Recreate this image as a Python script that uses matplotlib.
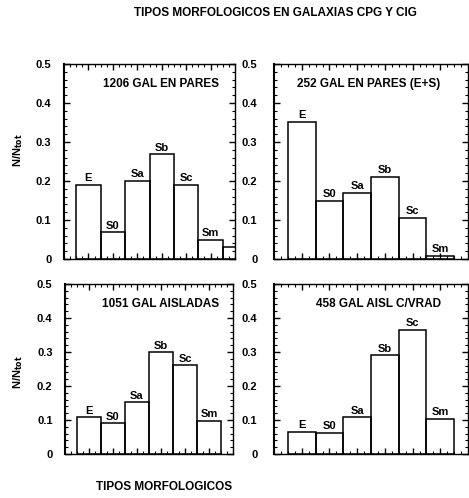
import numpy as np
from matplotlib import pyplot as plt
from matplotlib.ticker import MultipleLocator

plt.rcParams['font.family'] = ['Liberation Sans', 'DejaVu Sans']
plt.rcParams['font.weight'] = 'bold'

# tipos morfologicos y fracciones N/Ntot de cada muestra
tipos = ['E', 'S0', 'Sa', 'Sb', 'Sc', 'Sm']
pares = [0.19, 0.069, 0.20, 0.269, 0.19, 0.049, 0.031]   # ultimo: cola fuera del eje
pares_es = [0.352, 0.15, 0.17, 0.211, 0.105, 0.008]
aisladas = [0.109, 0.09, 0.152, 0.30, 0.262, 0.098]
aisl_vrad = [0.066, 0.063, 0.108, 0.29, 0.366, 0.104]

rotulos = ['1206 GAL EN PARES', '252 GAL EN PARES (E+S)',
           '1051 GAL AISLADAS', '458 GAL AISL C/VRAD']
muestras = [pares, pares_es, aisladas, aisl_vrad]
yticks = [0, 0.1, 0.2, 0.3, 0.4, 0.5]
yticklabels = ['0', '0.1', '0.2', '0.3', '0.4', '0.5']

fig = plt.figure(figsize=(4.69, 4.98), dpi=100)
W, H = 469, 498

# cajas de los paneles en pixeles (izq, arriba, der, abajo)
cajas = [(64, 64, 235, 259), (274, 64, 468, 259),
         (65, 284, 233, 454), (274, 284, 468, 454)]
pos_rotulo = [(0.57, 0.90), (0.49, 0.90), (0.57, 0.88), (0.54, 0.88)]

for i, (vals, rot) in enumerate(zip(muestras, rotulos)):
    l, t, r, b = cajas[i]
    ax = fig.add_axes([l / W, 1 - b / H, (r - l) / W, (b - t) / H])
    x = np.arange(1, len(vals) + 1)
    ax.bar(x, vals, width=1.0, fill=False, edgecolor='black', linewidth=1.1)
    for k, tp in enumerate(tipos):
        ax.text(x[k], vals[k] + 0.004, tp, ha='center', va='bottom', fontsize=8)
    ax.text(pos_rotulo[i][0], pos_rotulo[i][1], rot, transform=ax.transAxes,
            ha='center', va='center', fontsize=8.5)

    ax.set_xlim(0, 7)
    ax.set_ylim(0, 0.5)
    ax.set_xticks(np.arange(1, 7))
    ax.set_xticklabels([])
    ax.xaxis.set_minor_locator(MultipleLocator(0.25))
    ax.set_yticks(yticks)
    ax.set_yticklabels(yticklabels)
    ax.yaxis.set_minor_locator(MultipleLocator(0.02))
    pad = 9 if i % 2 == 0 else 12
    ax.tick_params(which='both', direction='in', top=True, right=True,
                   labelsize=8, pad=pad)
    ax.tick_params(which='major', length=4, width=1)
    ax.tick_params(which='minor', length=2, width=0.8)
    for s in ax.spines.values():
        s.set_linewidth(1.0)
    ax.spines['left'].set_linewidth(1.5)

fig.text(18 / W, 1 - 150 / H, 'N/N$_{\\mathbf{tot}}$', rotation=90,
         ha='center', va='center', fontsize=8)
fig.text(18 / W, 1 - 372 / H, 'N/N$_{\\mathbf{tot}}$', rotation=90,
         ha='center', va='center', fontsize=8)

fig.text(275 / W, 1 - 13 / H, 'TIPOS MORFOLOGICOS EN GALAXIAS CPG Y CIG',
         ha='center', va='center', fontsize=8.5)
fig.text(164 / W, 1 - 487 / H, 'TIPOS MORFOLOGICOS',
         ha='center', va='center', fontsize=8.5)

plt.savefig('out.png', dpi=100)
